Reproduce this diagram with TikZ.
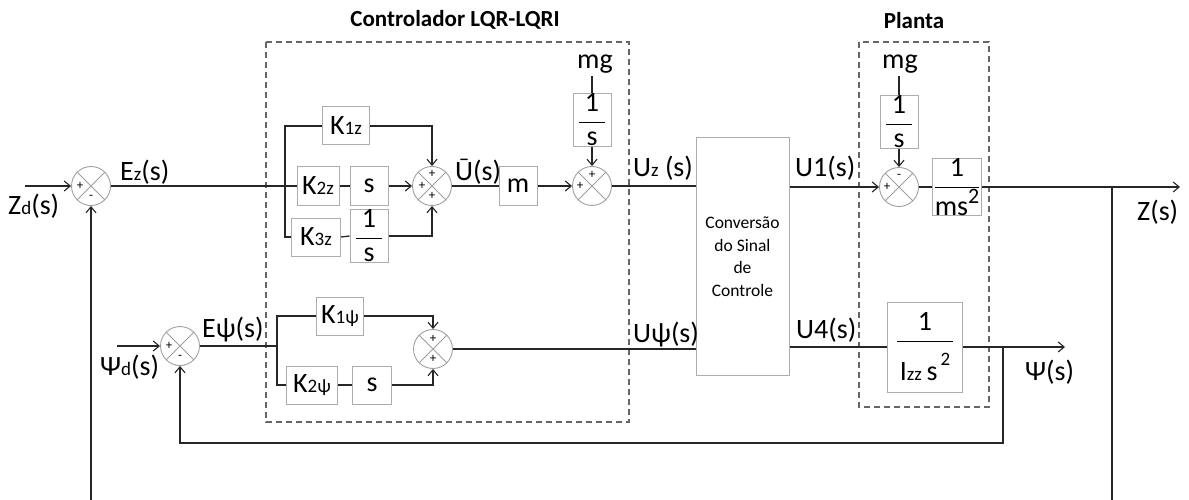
\documentclass[tikz,border=0pt]{standalone}
\usepackage{fontspec}
\setmainfont{Carlito}
\usetikzlibrary{arrows.meta}
\newcommand{\subt}[1]{{\fontsize{19}{19}\selectfont #1}}
\newcommand{\fr}[2]{$\displaystyle\frac{\hbox{#1}}{\hbox{#2}}$}
\tikzset{
  conn/.style={draw=black!85, line width=1.3pt},
  arr/.style={conn, -{Straight Barb[length=6pt,width=10pt,line width=1.1pt]}},
  blk/.style={draw=gray!65, line width=1pt, minimum height=38pt, inner sep=0pt, font=\fontsize{28}{30}\selectfont},
  sumj/.style={circle, draw=gray!75, line width=0.9pt, minimum size=39pt, inner sep=0pt,
    path picture={\draw[gray!75, line width=0.8pt] (path picture bounding box.north west) -- (path picture bounding box.south east)
      (path picture bounding box.north east) -- (path picture bounding box.south west);}},
  sgn/.style={font=\fontsize{13}{13}\selectfont, inner sep=0pt},
  lbl/.style={font=\fontsize{28}{30}\selectfont, inner sep=0pt, anchor=base west},
  frm/.style={draw=gray!80!black, dash pattern=on 6pt off 4pt, line width=1.2pt},
  ttl/.style={font=\bfseries\fontsize{23}{26}\selectfont, inner sep=0pt, anchor=base},
  mgl/.style={font=\fontsize{28}{30}\selectfont, inner sep=0pt, outer sep=2pt, anchor=base},
}
\begin{document}
\begin{tikzpicture}[x=1pt,y=-1pt]
\useasboundingbox (0,0) rectangle (1189,500);

% frames and titles
\draw[frm] (266,42) rectangle (629,422);
\draw[frm] (859,42) rectangle (989,407);
\node[ttl] (t1) at (455,27) {Controlador LQR-LQRI};
\node[ttl] (t2) at (914,29) {Planta};

% ---------- top row ----------
\node[sumj] (S1) at (91,186) {};
\coordinate (zin) at (25,186);
\node[lbl] (zd) at (8,214) {Z\subt{d}(s)};
\node[lbl] (ez) at (120,180) {E\subt{z}(s)};
\coordinate (B1) at (285,186);

\node[blk, minimum width=47pt] (K1z) at (346,126) {K\subt{1z}};
\node[blk, minimum width=42pt] (K2z) at (318,186) {K\subt{2z}};
\node[blk, minimum width=38pt] (s1) at (369,186) {s};
\node[blk, minimum width=49pt] (K3z) at (316,237) {K\subt{3z}};
\node[blk, minimum width=38pt, minimum height=51pt] (inv1) at (369,236) {\fr{\hbox to 26pt{\hfil 1\hfil}}{s}};

\node[sumj] (S2) at (432,186) {};
\node[lbl] (ub) at (455,181) {Ū(s)};
\node[blk, minimum width=38pt] (m) at (518,186) {m};
\node[sumj] (S3) at (592,186) {};
\node[blk, minimum width=38pt, minimum height=49pt] (invA) at (592,120) {\fr{\hbox to 26pt{\hfil 1\hfil}}{s}};
\node[mgl] (mgA) at (595,69) {mg};
\node[lbl] (uz) at (633,177) {U\subt{z} (s)};

\node[draw=gray!65, line width=1pt, minimum width=93pt, minimum height=237pt, align=center,
      font=\fontsize{17.5}{22.5}\selectfont] (conv) at (742.5,256.5) {Conversão\\do Sinal\\de\\Controle};

\node[lbl] (u1) at (795,176) {U1(s)};
\node[sumj] (S4) at (899,187) {};
\node[blk, minimum width=38pt, minimum height=49pt] (invB) at (899,122) {\fr{\hbox to 26pt{\hfil 1\hfil}}{s}};
\node[mgl] (mgB) at (900,69) {mg};
\node[blk, minimum width=49pt, minimum height=54pt] (G1) at (957,187) {\fr{1}{ms\raisebox{12pt}{\fontsize{22}{22}\selectfont 2}}};
\coordinate (zout) at (1180,187);
\coordinate (zbr) at (1112,187);
\coordinate (zbot) at (1112,500);
\coordinate (fbot) at (91,500);
\node[lbl] (zs) at (1137,220) {Z(s)};

% ---------- bottom row ----------
\node[sumj] (S5) at (180,346) {};
\coordinate (pin) at (117,346);
\node[lbl] (pd) at (100,375) {Ψ\subt{d}(s)};
\node[lbl] (ep) at (202,337) {Eψ(s)};
\coordinate (B2) at (277,346);
\node[blk, minimum width=47pt] (K1p) at (340,316) {K\subt{1ψ}};
\node[blk, minimum width=51pt] (K2p) at (312,385) {K\subt{2ψ}};
\node[blk, minimum width=39pt] (s2) at (372,385) {s};
\node[sumj] (S6) at (433,349) {};
\node[lbl] (up) at (633,342) {Uψ(s)};
\node[lbl] (u4) at (796,338) {U4(s)};
\node[blk, minimum width=75pt, minimum height=90pt] (G2) at (925,347)
  {\fr{\hbox to 56pt{\hfil 1\hfil}\rule[-3pt]{0pt}{3pt}}{\rule{0pt}{38pt}I\subt{zz}\,s\raisebox{15pt}{\subt{\,2}}}};
\coordinate (pout) at (1065,347);
\coordinate (pbr) at (1003,347);
\coordinate (pfb) at (1003,443);
\node[lbl] (ps) at (1025,380) {Ψ(s)};

% signs
\node[sgn] at ([xshift=-11pt]S1.center) {+};
\node[sgn] at ([yshift=-11pt]S1.center) {-};
\node[sgn] at ([xshift=-10pt]S2.center) {+};
\node[sgn] at ([yshift=12pt]S2.center) {+};
\node[sgn] at ([yshift=-10pt]S2.center) {+};
\node[sgn] at ([xshift=-12pt]S3.center) {+};
\node[sgn] at ([yshift=11pt]S3.center) {+};
\node[sgn] at ([xshift=-12pt]S4.center) {+};
\node[sgn] at ([yshift=11pt]S4.center) {-};
\node[sgn] at ([xshift=-11pt]S5.center) {+};
\node[sgn] at ([yshift=-11pt]S5.center) {-};
\node[sgn] at ([yshift=10pt]S6.center) {+};
\node[sgn] at ([yshift=-10pt]S6.center) {+};

% ---------- connectors top ----------
\draw[arr] (zin) -- (S1.west);
\draw[conn] (S1.east) -- (K2z.west);
\draw[conn] (K1z.west) -| (B1) |- (K3z.west);
\draw[arr] (K1z.east) -| (S2.north);
\draw[conn] (K2z.east) -- (s1.west);
\draw[arr] (s1.east) -- (S2.west);
\draw[conn] (K3z.east) -- (inv1.west);
\draw[arr] (inv1.east) -| (S2.south);
\draw[conn] (S2.east) -- (m.west);
\draw[arr] (m.east) -- (S3.west);
\draw[conn] (invA.north) -- (invA.north |- mgA.south);
\draw[arr] (invA.south) -- (S3.north);
\draw[conn] (S3.east) -- (conv.west |- S3.east);
\draw[arr] (conv.east |- S4.west) -- (S4.west);
\draw[conn] (invB.north) -- (invB.north |- mgB.south);
\draw[arr] (invB.south) -- (S4.north);
\draw[conn] (S4.east) -- (G1.west);
\draw[arr] (G1.east) -- (zout);
\draw[conn] (zbr) -- (zbot);
\draw[arr] (fbot) -- (S1.south);

% ---------- connectors bottom ----------
\draw[arr] (pin) -- (S5.west);
\draw[conn] (S5.east) -- (B2);
\draw[conn] (K1p.west) -| (B2) |- (K2p.west);
\draw[arr] (K1p.east) -| (S6.north);
\draw[conn] (K2p.east) -- (s2.west);
\draw[arr] (s2.east) -| (S6.south);
\draw[conn] (S6.east) -- (conv.west |- S6.east);
\draw[conn] (conv.east |- G2.west) -- (G2.west);
\draw[arr] (G2.east) -- (pout);
\draw[arr] (pbr) -- (pfb) -| (S5.south);
\end{tikzpicture}
\end{document}
